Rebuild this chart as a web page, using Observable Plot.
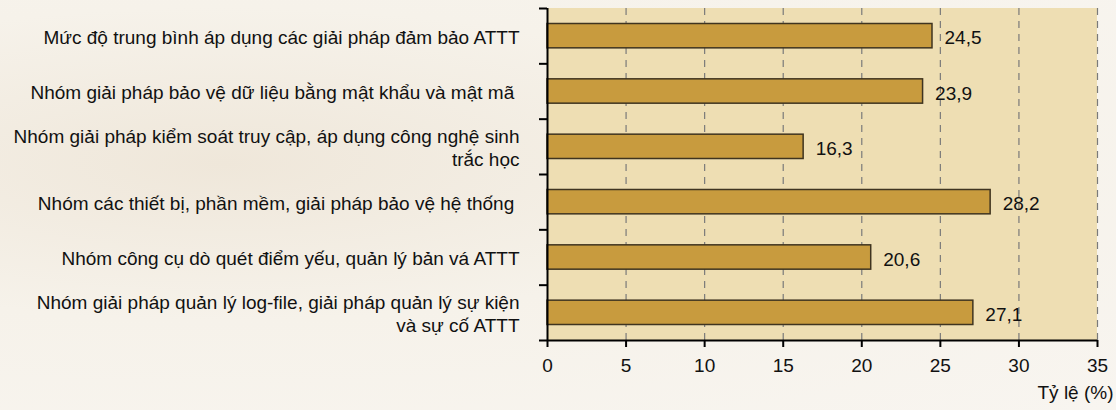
<!DOCTYPE html>
<html>
<head>
<meta charset="utf-8">
<script src="https://cdn.jsdelivr.net/npm/d3@7"></script>
<script src="https://cdn.jsdelivr.net/npm/@observablehq/plot@0.6"></script>
<style>
  html, body { margin: 0; padding: 0; }
  body {
    width: 1116px; height: 410px; overflow: hidden;
    background: radial-gradient(ellipse at 20% 40%, #efe7da 0%, #f6f2ea 45%, #f8f5f0 100%);
    font-family: "Liberation Sans", Arial, sans-serif;
  }
</style>
</head>
<body>
<div id="chart"></div>
<script>
const categories = [
  "Mức độ trung bình áp dụng các giải pháp đảm bảo ATTT",
  "Nhóm giải pháp bảo vệ dữ liệu bằng mật khẩu và mật mã\u00a0",
  "Nhóm giải pháp kiểm soát truy cập, áp dụng công nghệ sinh\ntrắc học",
  "Nhóm các thiết bị, phần mềm, giải pháp bảo vệ hệ thống\u00a0",
  "Nhóm công cụ dò quét điểm yếu, quản lý bản vá ATTT",
  "Nhóm giải pháp quản lý log-file, giải pháp quản lý sự kiện\nvà sự cố ATTT"
];
const values = [24.5, 23.9, 16.3, 28.2, 20.6, 27.1];
const valueLabels = ["24,5", "23,9", "16,3", "28,2", "20,6", "27,1"];
const xTicks = [0, 5, 10, 15, 20, 25, 30, 35];

const rows = categories.map((c, i) => ({cat: c, value: values[i], label: valueLabels[i], idx: i}));
const bounds = d3.range(categories.length + 1);

const fs = 19;
const chart = Plot.plot({
  width: 1116,
  height: 410,
  marginLeft: 547,
  marginRight: 19,
  marginTop: 8,
  marginBottom: 70,
  style: {fontFamily: '"Liberation Sans", Arial, sans-serif', fontSize: fs + "px", background: "transparent", color: "#111"},
  x: {domain: [0, 35]},
  y: {domain: [0, categories.length], reverse: true},
  marks: [
    Plot.rect([0], {x1: 0, x2: 35, y1: 0, y2: categories.length, fill: "#eedeb3"}),
    Plot.ruleX(xTicks.slice(1), {stroke: "#7a7a7a", strokeWidth: 1.2, strokeDasharray: "7,6"}),
    Plot.rectX(rows, {x1: 0, x2: "value", y1: "idx", y2: d => d.idx + 1, insetTop: 15.5, insetBottom: 15.5, fill: "#c89b3e", stroke: "#3f3420", strokeWidth: 1.5}),
    Plot.text(rows, {x: "value", y: d => d.idx + 0.5, text: "label", textAnchor: "start", dx: 12, dy: 2, fill: "#111", fontSize: fs}),
    Plot.text(rows, {x: 0, y: d => d.idx + 0.5, text: "cat", textAnchor: "end", dx: -28, lineHeight: 1.24, fill: "#111", fontSize: fs}),
    Plot.ruleX([0], {stroke: "#000", strokeWidth: 2}),
    Plot.ruleY([categories.length], {stroke: "#000", strokeWidth: 2}),
    Plot.axisY(bounds, {tickSize: 8, tickFormat: () => "", stroke: "#000", strokeWidth: 2, label: null}),
    Plot.axisX(xTicks, {tickSize: 7, tickPadding: 11, tickFormat: d => String(d), stroke: "#000", strokeWidth: 2, fontSize: fs, label: "Tỷ lệ (%)", labelAnchor: "right", labelArrow: "none", labelOffset: 58})
  ]
});
document.getElementById("chart").appendChild(chart);
</script>
</body>
</html>
